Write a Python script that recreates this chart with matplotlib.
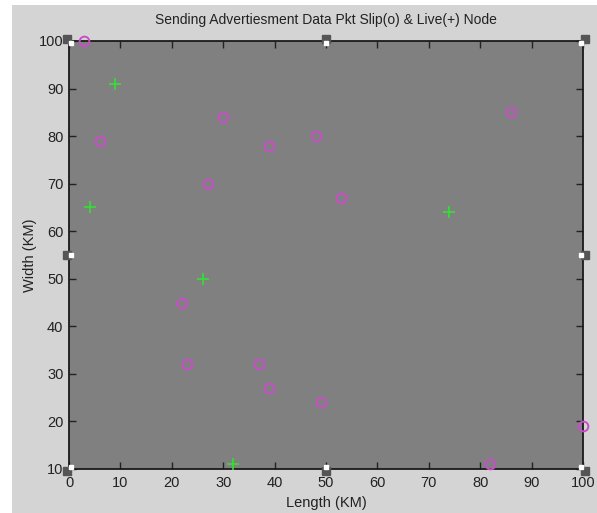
import matplotlib
matplotlib.use("Agg")
import matplotlib.pyplot as plt
from matplotlib.patches import Rectangle
from matplotlib.transforms import ScaledTranslation

# Data
slip_x = [3, 6, 30, 27, 39, 48, 53, 86, 22, 23, 37, 39, 49, 100, 82]
slip_y = [100, 79, 84, 70, 78, 80, 67, 85, 45, 32, 32, 27, 24, 19, 11]
live_x = [9, 4, 26, 74, 32]
live_y = [91, 65, 50, 64, 11]
x_ticks = list(range(0, 101, 10))
y_ticks = list(range(10, 101, 10))

plt.rcParams['font.family'] = ['Liberation Sans', 'DejaVu Sans']

fig = plt.figure(figsize=(5.97, 5.13), dpi=100, facecolor='white')
fig.patches.append(Rectangle((12 / 597, 0), 1 - 12 / 597, 1 - 5 / 513,
                             transform=fig.transFigure, facecolor='#d4d4d4',
                             edgecolor='none', zorder=-10))

ax = fig.add_axes([69 / 597, 1 - 469 / 513, (583 - 69) / 597, (469 - 41) / 513])
ax.set_facecolor('#808080')
ax.set_xlim(0, 100)
ax.set_ylim(10, 100)
ax.set_xticks(x_ticks)
ax.set_yticks(y_ticks)
ax.tick_params(direction='in', length=5, width=1, top=True, right=True,
               labelsize=10.5, colors='#222222')
ax.tick_params(axis='x', pad=5)
ax.tick_params(axis='y', pad=4)
for s in ax.spines.values():
    s.set_color('#1a1a1a')
    s.set_linewidth(1.3)

ax.plot(slip_x, slip_y, linestyle='none', marker='o', markersize=7,
        markerfacecolor='none', markeredgecolor='#c84ec8', markeredgewidth=1.4,
        clip_on=False, zorder=5)
ax.plot(live_x, live_y, linestyle='none', marker='+', markersize=8,
        markeredgecolor='#33e033', markeredgewidth=1.2, clip_on=False, zorder=5)

ax.set_title('Sending Advertiesment Data Pkt Slip(o) & Live(+) Node',
             fontsize=10, color='#222222', pad=12)
ax.set_xlabel('Length (KM)', fontsize=10.5, color='#222222', labelpad=4)
ax.set_ylabel('Width (KM)', fontsize=10.5, color='#222222', labelpad=1)

# selection handles (decoration)
handles = [(0, 10), (0, 100), (100, 100), (100, 10),
           (50, 100), (50, 10), (0, 55), (100, 55)]
for hx, hy in handles:
    dx = -1 if hx == 0 else (1 if hx == 100 else 0)
    dy = 1 if hy == 100 else (-1 if hy == 10 else 0)
    off_dark = ScaledTranslation(dx * 2 / 100, dy * 2 / 100, fig.dpi_scale_trans)
    off_white = ScaledTranslation(-dx * 2 / 100, -dy * 2 / 100, fig.dpi_scale_trans)
    ax.plot([hx], [hy], marker='s', markersize=5.5, color='#555555',
            transform=ax.transData + off_dark, clip_on=False, zorder=6)
    ax.plot([hx], [hy], marker='s', markersize=3, color='white',
            markeredgecolor='white', transform=ax.transData + off_white,
            clip_on=False, zorder=7)

fig.savefig('out.png', dpi=100, facecolor=fig.get_facecolor())
